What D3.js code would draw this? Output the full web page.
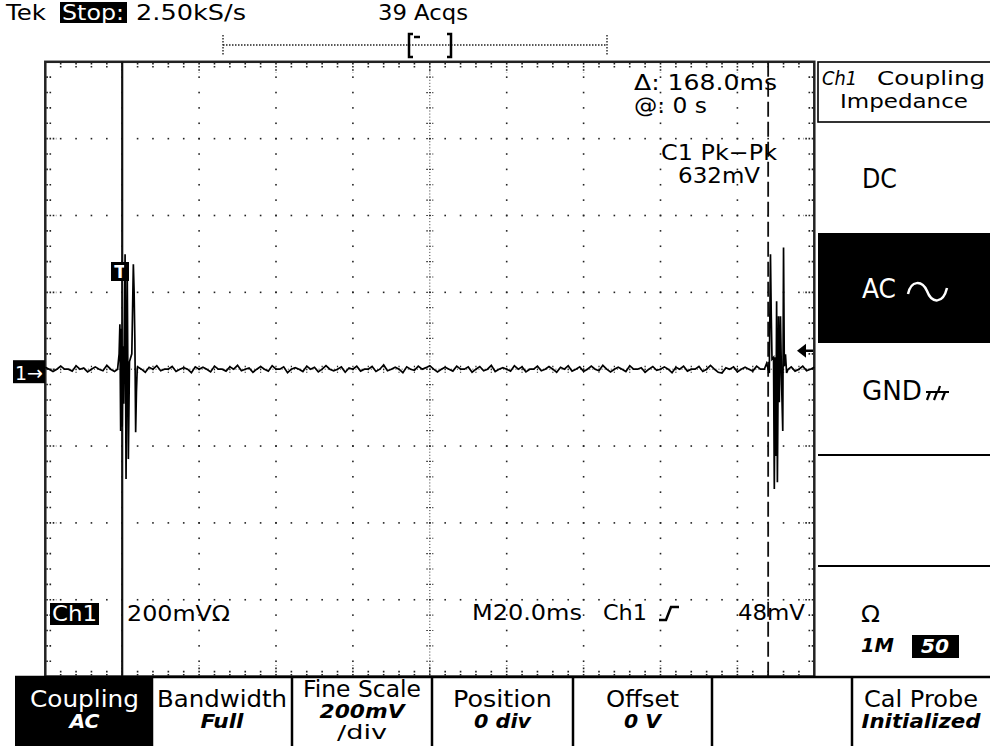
<!DOCTYPE html>
<html>
<head>
<meta charset="utf-8">
<title>Tek scope capture</title>
<script src="https://d3js.org/d3.v7.min.js"></script>
<style>
  html, body { margin: 0; padding: 0; background: #fff; }
  svg { display: block; }
  text { font-family: "DejaVu Sans", sans-serif; }
</style>
</head>
<body>
<svg id="canvas"></svg>
<script>
"use strict"

// Scope settings
const timeDomainMs = [-20, 180];
const voltDomainMv = [-800, 800];
const timePerDivMs = 20;
const voltPerDivMv = 200;
const triggerLevelMv = 48;
const cursorTimesMs = [0, 168];

// Baseline noise, one sample per ms starting at -20 ms
const baselineStartMs = -20;
const baselineStepMs = 1;
const baselineNoiseMv = [
    5, 0, -6, 0, 8, 0, 0, -5, 9, 0, 3, -7, 0, 6, 0, -4, 10, 0, -6, 4,
    0, 0, 0, 0, 6, 0, -8, 5, 0, 9, -4, 0, 0, 7, -6, 0, 4, 0, -9, 6,
    0, 5, 0, -7, 8, 0, 0, -5, 6, 0, 10, -4, 0, 3, -8, 0, 7, 0, -5, 9,
    0, 0, 6, -9, 0, 4, 0, -6, 8, 0, 5, -7, 0, 9, 0, -4, 0, 6, -8, 3,
    0, 8, -5, 0, 0, 7, -6, 0, 11, -4, 0, 5, 0, -9, 6, 0, -3, 8, 0, 4,
    9, 0, -7, 0, 5, 0, -5, 8, 0, 0, 6, -8, 0, 7, -4, 0, 10, -6, 0, 4,
    0, -5, 9, 0, 6, -7, 0, 0, 8, -4, 0, 7, 0, -8, 5, 0, 9, -5, 0, 6,
    -6, 0, 8, 0, -4, 10, 0, -7, 0, 5, 0, -6, 9, 0, 0, 4, -8, 0, 7, -3,
    0, 6, 0, -9, 5, 0, 8, -5, 0, 0, 7, -6, 0, 10, 0, -8, -10, 4, 0, 6,
    -7, 0, 5, 0, -5, 8, 0, 0, 0, 0, 0, 0, 0, 0, 6, -5, 0, 8, -4, 0,
    5
];

// The two bursts as [time ms, mV]
const burst1 = [
    [-1.2, 0], [-0.8, 40], [-0.6, 117], [-0.4, -161], [-0.2, 105], [0, -150],
    [0.2, 60], [0.4, -90], [0.75, 299], [1.0, -286], [1.3, 278], [1.6, -234],
    [1.9, 20], [2.5, 40], [2.9, 273], [3.1, 200], [3.3, 70], [3.5, -164],
    [3.7, -60], [3.9, 0]
];
const burst2 = [
    [167.0, 0], [167.6, 15], [168.3, -10], [168.6, 299], [168.8, 143], [169.0, 26],
    [169.4, 31], [169.6, -312], [169.8, 31], [170.0, -226], [170.2, 177], [170.4, -294],
    [170.7, 138], [170.9, -86], [171.2, 138], [171.5, -40], [171.8, -161], [172.0, 317],
    [172.2, 8], [172.5, 39], [172.8, -10], [173.2, 0]
];

// Screen texts
const bottomMenuTitles = ["Coupling", "Bandwidth", "Fine Scale", "Position", "Offset", "", "Cal Probe"];
const bottomMenuValues = ["AC", "Full", "200mV", "0 div", "0 V", "", "Initialized"];
const sideMenuItems = ["DC", "AC", "GND"];

// Global variables
let canvas = null;
let x = null;
let y = null;
const canvasWidth = 990;
const canvasHeight = 746;
const plot = { left: 45.3, right: 814.3, top: 61.8, bottom: 676.6 };
const ink = "#000";

init();

function init() {
    canvas = d3.select("#canvas")
        .attr("width", canvasWidth)
        .attr("height", canvasHeight);

    x = d3.scaleLinear().domain(timeDomainMs).range([plot.left, plot.right]);
    y = d3.scaleLinear().domain(voltDomainMv).range([plot.bottom, plot.top]);

    drawGraticule();
    drawCursors();
    drawMarkers();
    drawTrace();
    drawReadouts();
    drawHeader();
    drawSideMenu();
    drawBottomMenu();
}

// Add a text, optionally stretched to a measured width
function label(parent, str, px, py, opts = {}) {
    const t = parent.append("text")
        .attr("x", px)
        .attr("y", py)
        .attr("font-size", opts.size || 21)
        .attr("fill", opts.fill || ink)
        .attr("text-anchor", opts.anchor || "start")
        .text(str);
    if(opts.italic) t.attr("font-style", "italic");
    if(opts.bold) t.attr("font-weight", "bold");
    if(opts.width) t.attr("textLength", opts.width).attr("lengthAdjust", "spacingAndGlyphs");
    return t;
}

function drawGraticule() {
    const g = canvas.append("g");
    const eps = 0.001;
    const majorT = d3.range(timeDomainMs[0], timeDomainMs[1] + eps, timePerDivMs);
    const majorV = d3.range(voltDomainMv[0], voltDomainMv[1] + eps, voltPerDivMv);
    const minorT = d3.range(timeDomainMs[0], timeDomainMs[1] + eps, timePerDivMs / 5);
    const minorV = d3.range(voltDomainMv[0], voltDomainMv[1] + eps, voltPerDivMv / 5);
    const fineT = d3.range(timeDomainMs[0], timeDomainMs[1] + eps, timePerDivMs / 25);
    const fineV = d3.range(voltDomainMv[0], voltDomainMv[1] + eps, voltPerDivMv / 25);
    const centerT = (timeDomainMs[0] + timeDomainMs[1]) / 2;
    const centerV = (voltDomainMv[0] + voltDomainMv[1]) / 2;
    const isMajorT = t => Math.abs(((t - timeDomainMs[0]) / timePerDivMs) % 1) < eps;
    const isMajorV = v => Math.abs(((v - voltDomainMv[0]) / voltPerDivMv) % 1) < eps;

    // Dotted major lines
    const dots = [];
    majorT.slice(1, -1).filter(t => t !== centerT).forEach(t => {
        minorV.slice(1, -1).forEach(v => dots.push([x(t), y(v)]));
    });
    majorV.slice(1, -1).filter(v => v !== centerV).forEach(v => {
        minorT.slice(1, -1).forEach(t => dots.push([x(t), y(v)]));
    });

    g.selectAll("rect.dot")
        .data(dots)
        .join("rect")
        .attr("class", "dot")
        .attr("x", d => d[0] - 0.8)
        .attr("y", d => d[1] - 0.8)
        .attr("width", 1.6)
        .attr("height", 1.6)
        .attr("fill", "#222");

    // Finely dotted center lines
    const fine = [];
    fineV.slice(1, -1).forEach(v => fine.push([x(centerT), y(v)]));
    fineT.slice(1, -1).forEach(t => fine.push([x(t), y(centerV)]));
    g.selectAll("rect.fine")
        .data(fine)
        .join("rect")
        .attr("class", "fine")
        .attr("x", d => d[0] - 0.5)
        .attr("y", d => d[1] - 0.5)
        .attr("width", 1)
        .attr("height", 1)
        .attr("fill", "#333");

    // Cross ticks on the center lines
    g.selectAll("line.cv")
        .data(minorV.slice(1, -1))
        .join("line")
        .attr("class", "cv")
        .attr("x1", x(centerT) - 3.5).attr("x2", x(centerT) + 3.5)
        .attr("y1", d => y(d)).attr("y2", d => y(d))
        .attr("stroke", "#222").attr("stroke-width", 1.2)
        .attr("stroke-dasharray", "1.5,1.5");
    g.selectAll("line.ch")
        .data(minorT.slice(1, -1))
        .join("line")
        .attr("class", "ch")
        .attr("y1", y(centerV) - 3.5).attr("y2", y(centerV) + 3.5)
        .attr("x1", d => x(d)).attr("x2", d => x(d))
        .attr("stroke", "#222").attr("stroke-width", 1.2)
        .attr("stroke-dasharray", "1.5,1.5");

    // Border ticks pointing inwards
    const tickStyle = sel => sel.attr("stroke", "#222")
        .attr("stroke-width", 1.6)
        .attr("stroke-dasharray", "1.6,1.6");
    const tLen = t => isMajorT(t) ? 10 : 5;
    const vLen = v => isMajorV(v) ? 10 : 5;
    const innerT = minorT.slice(1, -1);
    const innerV = minorV.slice(1, -1);

    tickStyle(g.selectAll("line.tt").data(innerT).join("line").attr("class", "tt")
        .attr("x1", d => x(d)).attr("x2", d => x(d))
        .attr("y1", plot.top + 1).attr("y2", d => plot.top + 1 + tLen(d)));
    tickStyle(g.selectAll("line.tb").data(innerT).join("line").attr("class", "tb")
        .attr("x1", d => x(d)).attr("x2", d => x(d))
        .attr("y1", plot.bottom - 1).attr("y2", d => plot.bottom - 1 - tLen(d)));
    tickStyle(g.selectAll("line.vl").data(innerV).join("line").attr("class", "vl")
        .attr("y1", d => y(d)).attr("y2", d => y(d))
        .attr("x1", plot.left + 1).attr("x2", d => plot.left + 1 + vLen(d)));
    tickStyle(g.selectAll("line.vr").data(innerV).join("line").attr("class", "vr")
        .attr("y1", d => y(d)).attr("y2", d => y(d))
        .attr("x1", plot.right - 1).attr("x2", d => plot.right - 1 - vLen(d)));

    // Frame
    g.append("rect")
        .attr("x", plot.left)
        .attr("y", plot.top)
        .attr("width", plot.right - plot.left)
        .attr("height", plot.bottom - plot.top)
        .attr("fill", "none")
        .attr("stroke", "#222")
        .attr("stroke-width", 2.5);
}

function drawCursors() {
    const g = canvas.append("g");
    g.selectAll("line")
        .data(cursorTimesMs)
        .join("line")
        .attr("x1", d => x(d)).attr("x2", d => x(d))
        .attr("y1", plot.top).attr("y2", plot.bottom)
        .attr("stroke", "#111")
        .attr("stroke-width", (d, i) => i === 0 ? 2.2 : 1.8)
        .attr("stroke-dasharray", (d, i) => i === 0 ? null : "15,5");
}

function drawMarkers() {
    const g = canvas.append("g");

    // Trigger point marker
    g.append("rect").attr("x", 111).attr("y", 262).attr("width", 18).attr("height", 19).attr("fill", ink);
    label(g, "T", 120, 278, { size: 17, fill: "#fff", anchor: "middle", bold: true });

    // Channel 1 ground marker
    g.append("rect").attr("x", 13).attr("y", y(0) - 9).attr("width", 32).attr("height", 23).attr("fill", ink);
    label(g, "1→", 15, y(0) + 11, { size: 20, fill: "#fff", width: 28 });

    // Trigger level arrow
    const ty = y(triggerLevelMv);
    g.append("path")
        .attr("d", `M797,${ty} L806,${ty - 7} L806,${ty + 7} Z`)
        .attr("fill", ink);
    g.append("line")
        .attr("x1", 805).attr("x2", 813)
        .attr("y1", ty).attr("y2", ty)
        .attr("stroke", ink).attr("stroke-width", 2.5);
}

function drawTrace() {
    const noisePoints = baselineNoiseMv.map((v, i) => [baselineStartMs + i * baselineStepMs, v]);
    const b1End = burst1[burst1.length - 1][0];
    const b2End = burst2[burst2.length - 1][0];
    const quiet = noisePoints.filter(d => d[0] < burst1[0][0]
        || (d[0] > b1End && d[0] < burst2[0][0])
        || d[0] > b2End);
    const trace = quiet.concat(burst1, burst2).sort((a, b) => a[0] - b[0]);

    canvas.append("path")
        .datum(trace)
        .attr("fill", "none")
        .attr("stroke", ink)
        .attr("stroke-width", 1.7)
        .attr("stroke-linejoin", "miter")
        .attr("d", d3.line()
            .x(d => x(d[0]))
            .y(d => y(d[1])));
}

function drawReadouts() {
    const g = canvas.append("g");
    label(g, "Δ: 168.0ms", 634, 90, { width: 143 });
    label(g, "@: 0 s", 634, 113, { width: 73 });
    label(g, "C1 Pk−Pk", 661, 160, { width: 116 });
    label(g, "632mV", 678, 183, { width: 82 });

    g.append("rect").attr("x", 50).attr("y", 603).attr("width", 49).attr("height", 22).attr("fill", ink);
    label(g, "Ch1", 52, 621, { fill: "#fff", width: 45 });
    label(g, "200mVΩ", 127, 621, { width: 103 });
    label(g, "M20.0ms", 472, 620, { width: 110 });
    label(g, "Ch1", 603, 620, { width: 44 });
    g.append("path")
        .attr("d", "M659,620 L666,620 L671,607 L679,607")
        .attr("fill", "none")
        .attr("stroke", ink)
        .attr("stroke-width", 2.5);
    label(g, "48mV", 738, 620, { width: 67 });
}

function drawHeader() {
    const g = canvas.append("g");
    label(g, "Tek", 6, 20, { size: 22, width: 40 });
    g.append("rect").attr("x", 60).attr("y", 2).attr("width", 67).attr("height", 21).attr("fill", ink);
    label(g, "Stop:", 62, 20, { size: 22, fill: "#fff", width: 62 });
    label(g, "2.50kS/s", 136, 20, { size: 22, width: 110 });
    label(g, "39 Acqs", 378, 20, { size: 22, width: 90 });

    // Record view
    const dotted = sel => sel.attr("stroke", "#222").attr("stroke-width", 1.4).attr("stroke-dasharray", "1.5,1.5");
    dotted(g.append("line").attr("x1", 223).attr("x2", 607).attr("y1", 45).attr("y2", 45));
    dotted(g.append("line").attr("x1", 223).attr("x2", 223).attr("y1", 35).attr("y2", 56));
    dotted(g.append("line").attr("x1", 607).attr("x2", 607).attr("y1", 35).attr("y2", 56));
    g.append("path")
        .attr("d", "M413,34 H409 V57 H413 M447,34 H451 V57 H447 M414,37 H420")
        .attr("fill", "none")
        .attr("stroke", ink)
        .attr("stroke-width", 2.5);
}

function drawSideMenu() {
    const g = canvas.append("g");

    // Title box
    g.append("rect")
        .attr("x", 818).attr("y", 62).attr("width", 176).attr("height", 60)
        .attr("fill", "none").attr("stroke", ink).attr("stroke-width", 1.6);
    label(g, "Ch1", 822, 85, { size: 19, italic: true, width: 35 });
    label(g, "Coupling", 877, 85, { size: 19, width: 108 });
    label(g, "Impedance", 840, 108, { size: 19, width: 128 });

    // Choices
    label(g, sideMenuItems[0], 862, 188, { size: 27, width: 35 });
    g.append("rect").attr("x", 818).attr("y", 233).attr("width", 172).attr("height", 110).attr("fill", ink);
    label(g, sideMenuItems[1], 862, 298, { size: 27, fill: "#fff", width: 34 });
    g.append("path")
        .attr("d", "M908,294 C911,280 922,280 927,291 C932,304 943,304 947,288")
        .attr("fill", "none").attr("stroke", "#fff").attr("stroke-width", 2.5);
    label(g, sideMenuItems[2], 862, 400, { size: 27, width: 60 });
    g.append("path")
        .attr("d", "M940,386 L938,392 M926,392 H949 M930,392 L927,400 M937,392 L934,400 M945,392 L942,400")
        .attr("fill", "none").attr("stroke", ink).attr("stroke-width", 2.2);

    // Separators
    g.selectAll("line.sep")
        .data([455, 566])
        .join("line")
        .attr("class", "sep")
        .attr("x1", 818).attr("x2", 990)
        .attr("y1", d => d).attr("y2", d => d)
        .attr("stroke", ink).attr("stroke-width", 2);

    // Impedance
    label(g, "Ω", 861, 622, { size: 23, width: 19 });
    label(g, "1M", 861, 652, { size: 19, italic: true, bold: true, width: 33 });
    g.append("rect").attr("x", 912).attr("y", 635).attr("width", 47).attr("height", 23).attr("fill", ink);
    label(g, "50", 935, 653, { size: 19, italic: true, bold: true, fill: "#fff", anchor: "middle", width: 28 });
}

function drawBottomMenu() {
    const g = canvas.append("g");
    const edges = [15, 152, 292, 432, 573, 712, 852, 990];
    const titleWidths = [109, 130, 118, 99, 73, 0, 114];
    const valueWidths = [30, 43, 85, 57, 37, 0, 119];

    g.append("rect")
        .attr("x", edges[0]).attr("y", 677)
        .attr("width", edges[1] - edges[0]).attr("height", canvasHeight - 677)
        .attr("fill", ink);
    g.append("line")
        .attr("x1", edges[0]).attr("x2", canvasWidth)
        .attr("y1", 677).attr("y2", 677)
        .attr("stroke", ink).attr("stroke-width", 2.5);
    g.selectAll("line.div")
        .data(edges.slice(1, -1))
        .join("line")
        .attr("class", "div")
        .attr("x1", d => d).attr("x2", d => d)
        .attr("y1", 677).attr("y2", canvasHeight)
        .attr("stroke", ink).attr("stroke-width", 2.5);

    bottomMenuTitles.forEach((title, i) => {
        if(title === "") return;
        const cx = (edges[i] + edges[i + 1]) / 2 + (i === 0 ? 1 : 0);
        const fill = i === 0 ? "#fff" : ink;
        const twoLine = title === "Fine Scale";
        label(g, title, cx, twoLine ? 697 : 707, { size: 23, anchor: "middle", fill: fill, width: titleWidths[i] });
        label(g, bottomMenuValues[i], cx, twoLine ? 718 : 728,
            { size: 19, italic: true, bold: true, anchor: "middle", fill: fill, width: valueWidths[i] });
        if(twoLine) label(g, "/div", cx, 739, { size: 20, anchor: "middle", width: 50 });
    });
}
</script>
</body>
</html>
